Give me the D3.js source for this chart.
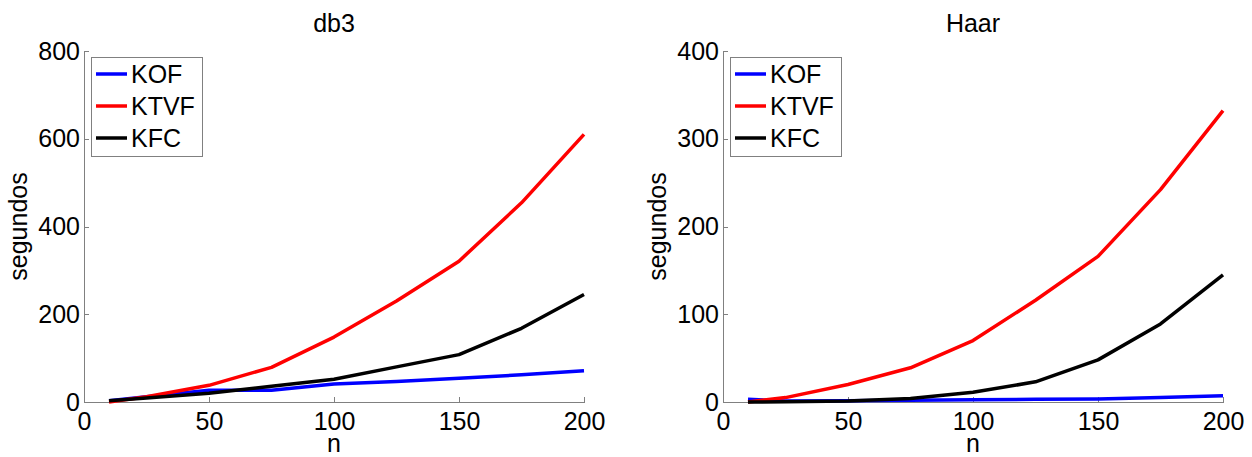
<!DOCTYPE html>
<html>
<head>
<meta charset="utf-8">
<script src="https://cdn.jsdelivr.net/npm/d3@7"></script>
<style>
  body { margin: 0; background: #fff; }
  svg { display: block; font-family: "Liberation Sans", Arial, sans-serif; }
  .axis path, .axis line { stroke: #808080; shape-rendering: crispEdges; }
  .axis text { fill: #000; font-size: 25px; font-family: "Liberation Sans", Arial, sans-serif; }
</style>
</head>
<body>
<svg id="chart" width="1252" height="457"></svg>
<script>
// n values along x
const nValues = [10, 25, 50, 75, 100, 125, 150, 175, 200];

// db3 panel (seconds)
const db3KOF  = [3, 12, 27, 27, 41, 47, 54, 62, 71];
const db3KTVF = [0, 12, 38, 79, 148, 230, 321, 454, 610];
const db3KFC  = [3, 9, 20, 36, 52, 80, 108, 168, 245];

// Haar panel (seconds)
const haarKOF  = [3, 1, 1.5, 2, 2.5, 3, 3.5, 5, 7];
const haarKTVF = [0, 5, 20, 39, 70, 116, 166, 242, 332];
const haarKFC  = [0, 0.3, 1, 4, 11, 23, 48, 89, 145];

const seriesNames = ["KOF", "KTVF", "KFC"];
const seriesColors = ["#0000ff", "#ff0000", "#000000"];

const xTicks = [0, 50, 100, 150, 200];
const db3YTicks = [0, 200, 400, 600, 800];
const haarYTicks = [0, 100, 200, 300, 400];

const panels = [
  { title: "db3", left: 84, right: 584, yMax: 800, yTicks: db3YTicks, series: [db3KOF, db3KTVF, db3KFC] },
  { title: "Haar", left: 723, right: 1223, yMax: 400, yTicks: haarYTicks, series: [haarKOF, haarKTVF, haarKFC] }
];

const plotTop = 51, plotBottom = 402;
const svg = d3.select("#chart");

panels.forEach(p => {
  const x = d3.scaleLinear().domain([0, 200]).range([p.left, p.right]);
  const y = d3.scaleLinear().domain([0, p.yMax]).range([plotBottom, plotTop]);

  const g = svg.append("g");

  g.append("g")
    .attr("class", "axis")
    .attr("transform", `translate(0,${plotBottom})`)
    .call(d3.axisBottom(x).tickValues(xTicks).tickSizeInner(-5).tickSizeOuter(0).tickPadding(10));

  g.append("g")
    .attr("class", "axis")
    .attr("transform", `translate(${p.left},0)`)
    .call(d3.axisLeft(y).tickValues(p.yTicks).tickSizeInner(-5).tickSizeOuter(0).tickPadding(4));

  const line = d3.line()
    .x((d, i) => x(nValues[i]))
    .y(d => y(d));

  p.series.forEach((s, k) => {
    g.append("path")
      .datum(s)
      .attr("fill", "none")
      .attr("stroke", seriesColors[k])
      .attr("stroke-width", 3.5)
      .attr("stroke-linejoin", "round")
      .attr("d", line);
  });

  // title and axis labels
  g.append("text")
    .attr("x", (p.left + p.right) / 2)
    .attr("y", 32)
    .attr("text-anchor", "middle")
    .attr("font-size", 25)
    .text(p.title);

  g.append("text")
    .attr("x", (p.left + p.right) / 2)
    .attr("y", 452)
    .attr("text-anchor", "middle")
    .attr("font-size", 25)
    .text("n");

  g.append("text")
    .attr("transform", `translate(${p.left - 57},${(plotTop + plotBottom) / 2}) rotate(-90)`)
    .attr("text-anchor", "middle")
    .attr("font-size", 25)
    .text("segundos");

  // legend
  const lx = p.left + 7, ly = 57;
  const legend = g.append("g").attr("transform", `translate(${lx},${ly})`);
  legend.append("rect")
    .attr("width", 111)
    .attr("height", 99)
    .attr("fill", "#fff")
    .attr("stroke", "#808080")
    .attr("shape-rendering", "crispEdges");

  seriesNames.forEach((name, k) => {
    const ry = 17 + k * 32;
    legend.append("line")
      .attr("x1", 5).attr("x2", 36)
      .attr("y1", ry).attr("y2", ry)
      .attr("stroke", seriesColors[k])
      .attr("stroke-width", 3.5);
    legend.append("text")
      .attr("x", 40)
      .attr("y", ry)
      .attr("dy", "0.36em")
      .attr("font-size", 25)
      .text(name);
  });
});
</script>
</body>
</html>
